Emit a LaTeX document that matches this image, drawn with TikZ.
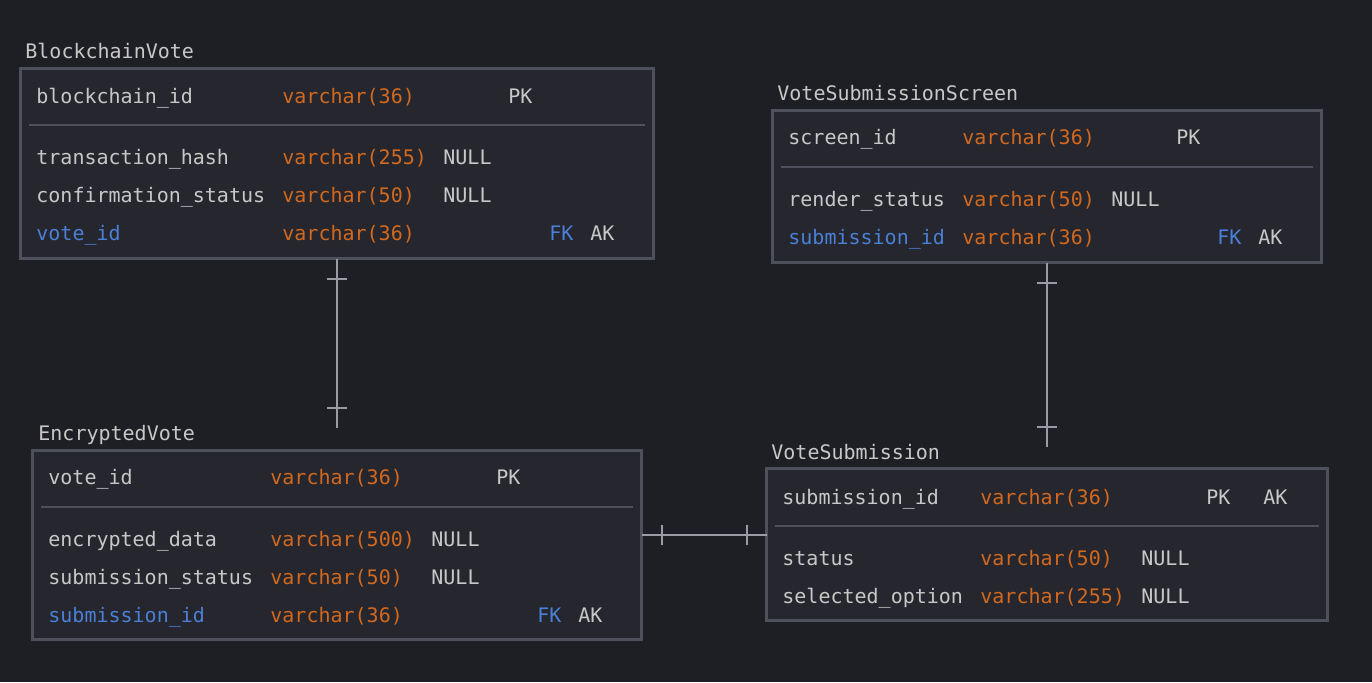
\documentclass[tikz,border=0pt]{standalone}
\usepackage{fontspec}
\setmonofont{DejaVu Sans Mono}
\usepackage{tikz}
\usetikzlibrary{decorations.markings}
\definecolor{bgcol}{HTML}{1E1F24}
\definecolor{tblfill}{HTML}{25262E}
\definecolor{tblline}{HTML}{4E505B}
\definecolor{txtgrey}{HTML}{C8C8C8}
\definecolor{typeorange}{HTML}{D2691E}
\definecolor{keyblue}{HTML}{4A80D6}
\definecolor{relgrey}{HTML}{9A9CA3}

\begin{document}
\begin{tikzpicture}[x=0.5pt, y=-0.5pt]
		\tikzstyle{tbl}=[rectangle, draw=tblline, fill=tblfill, line width=1.5pt, inner sep=0pt, outer sep=0pt]
		\tikzstyle{sepline}=[draw=tblline, line width=1pt]
		\tikzstyle{txt}=[inner sep=0pt, anchor=base west, yshift=-1pt, font=\ttfamily\fontsize{10}{12}\selectfont]
		\tikzstyle{title}=[txt, text=txtgrey]
		\tikzstyle{field}=[txt, text=txtgrey]
		\tikzstyle{fkfield}=[txt, text=keyblue]
		\tikzstyle{dtype}=[txt, text=typeorange]
		\tikzstyle{rel}=[draw=relgrey, line width=1pt, postaction={decorate, decoration={markings,
			mark=at position 10pt with {\draw[relgrey, line width=1pt] (0,-5pt) -- (0,5pt);},
			mark=at position -10pt with {\draw[relgrey, line width=1pt] (0,-5pt) -- (0,5pt);}}}]
		\fill[bgcol] (0,0) rectangle (1372,682);
		\useasboundingbox (0,0) rectangle (1372,682);
		% tables
		\node[tbl, minimum width=316.5pt, minimum height=95pt] (bv) at (337,163.5) {};
		\node[tbl, minimum width=274.5pt, minimum height=76pt] (vss) at (1047,186.5) {};
		\node[tbl, minimum width=304.5pt, minimum height=94.5pt] (ev) at (337,545) {};
		\node[tbl, minimum width=280.5pt, minimum height=76pt] (vs) at (1047,544.5) {};
		\draw[sepline] (29,125) -- (645,125);
		\draw[sepline] (781,167) -- (1313,167);
		\draw[sepline] (41,507) -- (633,507);
		\draw[sepline] (775,526) -- (1319,526);
		% BlockchainVote
		\node[title] (bvtitle) at (25,56) {BlockchainVote};
		\node[field] (bvid) at (36,101) {blockchain\_id};
		\node[dtype] (bvidt) at (282,101) {varchar(36)};
		\node[field] (bvpk) at (508,101) {PK};
		\node[field] (bvhash) at (36,162) {transaction\_hash};
		\node[dtype] (bvhasht) at (282,162) {varchar(255)};
		\node[field] (bvhashn) at (443,162) {NULL};
		\node[field] (bvconf) at (36,200) {confirmation\_status};
		\node[dtype] (bvconft) at (282,200) {varchar(50)};
		\node[field] (bvconfn) at (443,200) {NULL};
		\node[fkfield] (bvvote) at (36,238) {vote\_id};
		\node[dtype] (bvvotet) at (282,238) {varchar(36)};
		\node[fkfield] (bvfk) at (549,238) {FK};
		\node[field] (bvak) at (590,238) {AK};
		% VoteSubmissionScreen
		\node[title] (vsstitle) at (777,98) {VoteSubmissionScreen};
		\node[field] (vssid) at (788,142) {screen\_id};
		\node[dtype] (vssidt) at (962,142) {varchar(36)};
		\node[field] (vsspk) at (1176,142) {PK};
		\node[field] (vssrend) at (788,204) {render\_status};
		\node[dtype] (vssrendt) at (962,204) {varchar(50)};
		\node[field] (vssrendn) at (1111,204) {NULL};
		\node[fkfield] (vsssub) at (788,242) {submission\_id};
		\node[dtype] (vsssubt) at (962,242) {varchar(36)};
		\node[fkfield] (vssfk) at (1217,242) {FK};
		\node[field] (vssak) at (1258,242) {AK};
		% EncryptedVote
		\node[title] (evtitle) at (38,438) {EncryptedVote};
		\node[field] (evid) at (48,482) {vote\_id};
		\node[dtype] (evidt) at (270,482) {varchar(36)};
		\node[field] (evpk) at (496,482) {PK};
		\node[field] (evdata) at (48,544) {encrypted\_data};
		\node[dtype] (evdatat) at (270,544) {varchar(500)};
		\node[field] (evdatan) at (431,544) {NULL};
		\node[field] (evstat) at (48,582) {submission\_status};
		\node[dtype] (evstatt) at (270,582) {varchar(50)};
		\node[field] (evstatn) at (431,582) {NULL};
		\node[fkfield] (evsub) at (48,620) {submission\_id};
		\node[dtype] (evsubt) at (270,620) {varchar(36)};
		\node[fkfield] (evfk) at (537,620) {FK};
		\node[field] (evak) at (578,620) {AK};
		% VoteSubmission
		\node[title] (vstitle) at (771,457) {VoteSubmission};
		\node[field] (vsid) at (782,502) {submission\_id};
		\node[dtype] (vsidt) at (980,502) {varchar(36)};
		\node[field] (vspk) at (1206,502) {PK};
		\node[field] (vsak) at (1263,502) {AK};
		\node[field] (vsstat) at (782,563) {status};
		\node[dtype] (vsstatt) at (980,563) {varchar(50)};
		\node[field] (vsstatn) at (1141,563) {NULL};
		\node[field] (vsopt) at (782,601) {selected\_option};
		\node[dtype] (vsoptt) at (980,601) {varchar(255)};
		\node[field] (vsoptn) at (1141,601) {NULL};
		% relations
		\coordinate (bvend) at ([yshift=11.5pt]ev.north);
		\coordinate (vssend) at ([yshift=11pt]vs.north);
		\coordinate (evr) at ([yshift=5pt]ev.east);
		\path (bv.south) edge [rel] (bvend)
		(vss.south) edge [rel] (vssend)
		(evr) edge [rel] (evr -| vs.west);
\end{tikzpicture}
\end{document}
